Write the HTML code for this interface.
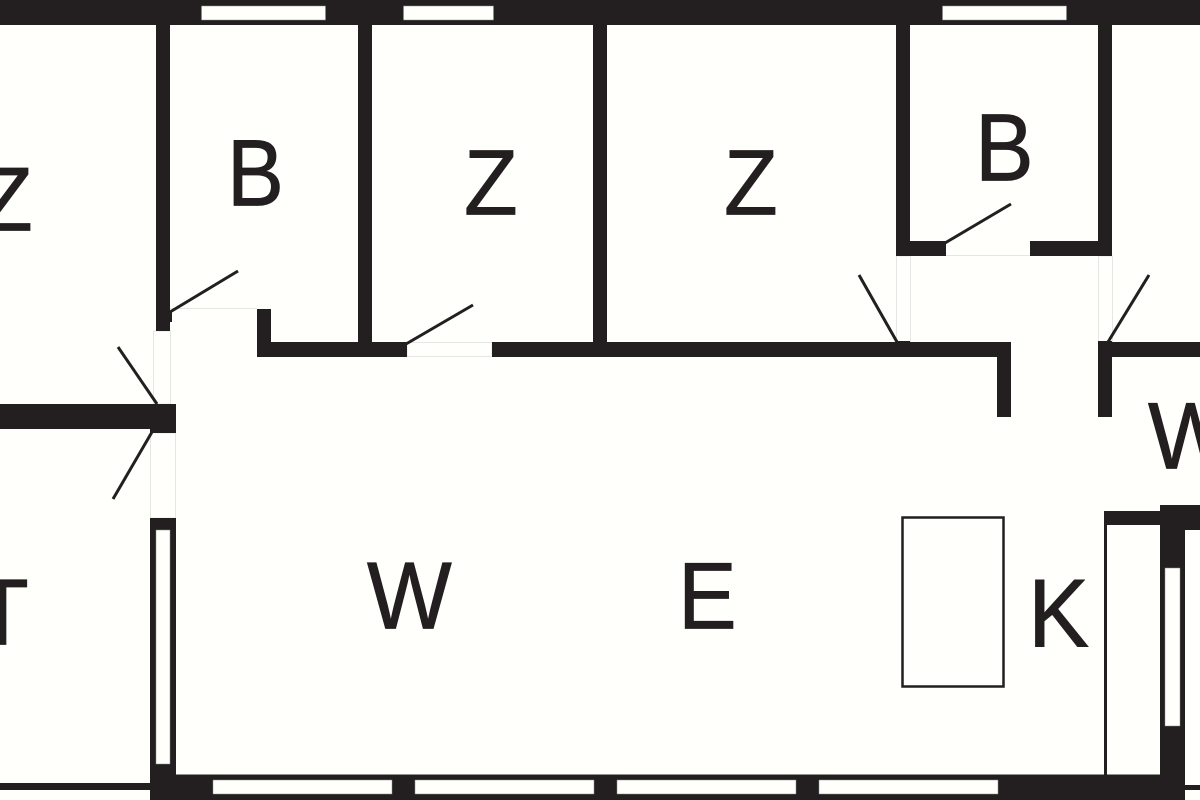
<!DOCTYPE html>
<html><head><meta charset="utf-8"><style>
html,body{margin:0;padding:0;background:#fffffb}
svg{display:block}
text{font-family:"Liberation Sans",sans-serif;font-size:88px;fill:#231f20;stroke:#231f20;stroke-width:0.8px}
</style></head><body>
<svg width="1200" height="800" viewBox="0 0 1200 800" xmlns="http://www.w3.org/2000/svg">
<rect width="1200" height="800" fill="#fffffb"/>
<g fill="none" stroke="#e6e6e4" stroke-width="1">
<rect x="153.500" y="331" width="17" height="73"/>
<rect x="150.500" y="433" width="25" height="85"/>
<path d="M170 308.500H257"/>
<rect x="407" y="342.500" width="85" height="14"/>
<path d="M945 255.500H1030"/>
<rect x="896.500" y="256" width="14" height="86"/>
<rect x="1098.500" y="256" width="14" height="86"/>
</g>
<g fill="#231f20">
<rect x="0" y="0" width="1200" height="25"/>
<rect x="156" y="25" width="14" height="306"/>
<rect x="170" y="312" width="2" height="10"/>
<rect x="358" y="25" width="14" height="332"/>
<rect x="593" y="25" width="14" height="332"/>
<rect x="896" y="25" width="14" height="231"/>
<rect x="1098" y="25" width="14" height="231"/>
<rect x="896" y="241" width="50" height="15"/>
<rect x="1030" y="241" width="82" height="15"/>
<rect x="257" y="309" width="14" height="48"/>
<rect x="257" y="342" width="150" height="15"/>
<rect x="492" y="342" width="519" height="15"/>
<rect x="897" y="341" width="13" height="2"/>
<rect x="997" y="342" width="14" height="75"/>
<rect x="1098" y="341" width="14" height="76"/>
<rect x="1098" y="342" width="102" height="15"/>
<rect x="0" y="404" width="176" height="25"/>
<rect x="150" y="404" width="26" height="29"/>
<rect x="150" y="518" width="26" height="282"/>
<rect x="150" y="774.500" width="1035" height="25.500"/>
<rect x="0" y="783" width="150" height="7"/>
<rect x="1160" y="505" width="25" height="295"/>
<rect x="1160" y="505" width="40" height="25"/>
<rect x="1185" y="785" width="15" height="5"/>
<rect x="1105" y="511" width="55" height="14"/>
<rect x="1104" y="511" width="3" height="265"/>
</g>
<g fill="#fffffb" stroke="#8a8a88" stroke-width="0.500">
<rect x="201.500" y="6" width="124" height="14"/>
<rect x="403.500" y="6" width="90" height="14"/>
<rect x="942.500" y="6" width="124" height="14"/>
<rect x="156" y="530" width="14" height="234"/>
<rect x="1165" y="568" width="15" height="158"/>
<rect x="213" y="780" width="179" height="14"/>
<rect x="415" y="780" width="179" height="14"/>
<rect x="617" y="780" width="179" height="14"/>
<rect x="819" y="780" width="179" height="14"/>
</g>
<rect x="902.500" y="517.500" width="101" height="169" fill="none" stroke="#231f20" stroke-width="2.500"/>
<g stroke="#231f20" stroke-width="3" fill="none">
<path d="M170 312L238 271"/>
<path d="M118 347L157 404"/>
<path d="M152 432L113 499"/>
<path d="M406 344L473 305"/>
<path d="M945 243L1011 204"/>
<path d="M897 342L859 275"/>
<path d="M1108 342L1149 275"/>
</g>
<text transform="translate(-21,230.600) scale(1,1.030)">Z</text>
<text transform="translate(227,205.600) scale(0.970,1.080)">B</text>
<text transform="translate(464,214.600) scale(1,1.050)">Z</text>
<text transform="translate(724,214.600) scale(1,1.050)">Z</text>
<text transform="translate(975,180.600) scale(1,1.090)">B</text>
<text transform="translate(367,628.600) scale(1.020,1.090)">W</text>
<text transform="translate(678,628.600) scale(1,1.080)">E</text>
<text transform="translate(1028,646.600) scale(1.040,1.100)">K</text>
<text transform="translate(1148,468.600) scale(1.020,1.080)">W</text>
<text transform="translate(-25,644.600) scale(1,1.060)">T</text>
</svg>
</body></html>
